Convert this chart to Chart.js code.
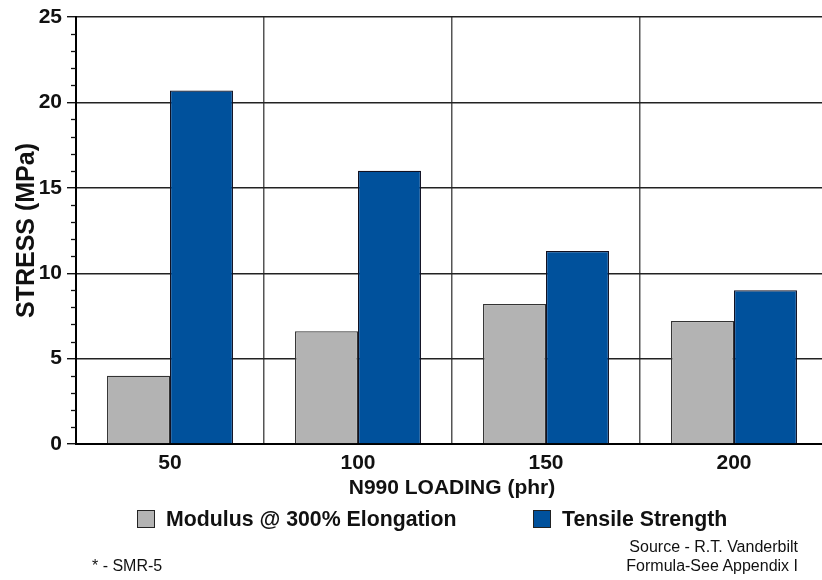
<!DOCTYPE html>
<html>
<head>
<meta charset="utf-8">
<script src="https://cdn.jsdelivr.net/npm/chart.js@4.4.1/dist/chart.umd.min.js"></script>
<style>
  html, body { margin: 0; padding: 0; background: #fff; overflow: hidden; width: 822px; height: 580px; }
  #wrap { position: relative; width: 822px; height: 580px; overflow: hidden; }
  #c { position: absolute; left: 0; top: 0; }
  .legend-item { position: absolute; top: 508px; display: flex; align-items: center; font: bold 21.3px "Liberation Sans", Arial, sans-serif; color: #111; white-space: nowrap; height: 22px; }
  .legend-box { width: 16px; height: 16px; border: 1px solid #222; margin-right: 11px; }
  .note { position: absolute; font: 16px "Liberation Sans", Arial, sans-serif; color: #111; white-space: nowrap; line-height: 19px; }
</style>
</head>
<body>
<div id="wrap">
  <canvas id="c" width="830" height="580"></canvas>
  <div id="legend"></div>
  <div class="note" style="left:92px; top:556px;">* - SMR-5</div>
  <div class="note" style="left:0; width:798px; text-align:right; top:537px;">Source - R.T. Vanderbilt</div>
  <div class="note" style="left:0; width:798px; text-align:right; top:556px;">Formula-See Appendix I</div>
</div>
<script>
// ---- data ----
const categories = ['50', '100', '150', '200'];
const seriesNames = ['Modulus @ 300% Elongation', 'Tensile Strength'];
const modulusValues = [4.0, 6.6, 8.2, 7.2];
const tensileValues = [20.7, 16.0, 11.3, 9.0];
const yTicks = [0, 5, 10, 15, 20, 25];
const yMinorTicks = [1,2,3,4,6,7,8,9,11,12,13,14,16,17,18,19,21,22,23,24];
const xTitle = 'N990 LOADING (phr)';
const yTitle = 'STRESS (MPa)';

const seriesColors = ['#b3b3b3', '#00519c'];
const seriesBorders = ['#333333', '#111122'];

Chart.defaults.font.family = '"Liberation Sans", Arial, sans-serif';
Chart.defaults.color = '#111';

const minorTicksPlugin = {
  id: 'minorTicks',
  afterDraw(chart) {
    const s = chart.scales.y;
    const ctx = chart.ctx;
    ctx.save();
    ctx.strokeStyle = '#111';
    ctx.lineWidth = 1.3;
    yMinorTicks.forEach(v => {
      const y = Math.round(s.getPixelForValue(v)) + 0.5;
      ctx.beginPath();
      ctx.moveTo(s.right - 5, y);
      ctx.lineTo(s.right, y);
      ctx.stroke();
    });
    ctx.restore();
  }
};

const chart = new Chart(document.getElementById('c'), {
  type: 'bar',
  data: {
    labels: categories,
    datasets: [
      { label: seriesNames[0], data: modulusValues, backgroundColor: seriesColors[0], borderColor: seriesBorders[0], borderWidth: 1.2 },
      { label: seriesNames[1], data: tensileValues, backgroundColor: seriesColors[1], borderColor: seriesBorders[1], borderWidth: 1.2 }
    ]
  },
  options: {
    responsive: false,
    animation: false,
    devicePixelRatio: 1,
    layout: { padding: { top: 17, left: 0, right: 2, bottom: 81.5 } },
    datasets: { bar: { categoryPercentage: 0.67, barPercentage: 1.0 } },
    plugins: { legend: { display: false }, tooltip: { enabled: false } },
    scales: {
      x: {
        offset: true,
        afterFit(scale) { scale.height = 54.5; },
        grid: { display: true, offset: true, color: '#555', lineWidth: 1.5, drawTicks: false },
        border: { display: true, color: '#000', width: 2 },
        ticks: { font: { size: 21, weight: 'bold', lineHeight: 1.0 }, color: '#111', padding: 9 },
        title: { display: true, text: xTitle, font: { size: 21, weight: 'bold', lineHeight: 1.0 }, color: '#111', padding: { top: 0, bottom: 0 } }
      },
      y: {
        min: yTicks[0],
        max: yTicks[yTicks.length - 1],
        afterFit(scale) { scale.width = 76; },
        afterBuildTicks(scale) { scale.ticks = yTicks.map(v => ({ value: v })); },
        grid: { color: '#222', lineWidth: 1.4, tickLength: 9, tickColor: '#111', tickWidth: 1.4 },
        border: { display: true, color: '#000', width: 2 },
        ticks: { font: { size: 21, weight: 'bold', lineHeight: 1.0 }, color: '#111', padding: 5 },
        title: { display: true, text: yTitle, font: { size: 25, weight: 'bold', lineHeight: 1.0 }, color: '#111', padding: { top: 15, bottom: 0 } }
      }
    }
  },
  plugins: [minorTicksPlugin]
});

// HTML legend built from the chart's datasets
const legendLefts = [137, 533];
const legendEl = document.getElementById('legend');
chart.data.datasets.forEach((ds, i) => {
  const item = document.createElement('div');
  item.className = 'legend-item';
  item.style.left = legendLefts[i] + 'px';
  const box = document.createElement('span');
  box.className = 'legend-box';
  box.style.background = ds.backgroundColor;
  const txt = document.createElement('span');
  txt.textContent = ds.label;
  item.appendChild(box);
  item.appendChild(txt);
  legendEl.appendChild(item);
});
</script>
</body>
</html>
